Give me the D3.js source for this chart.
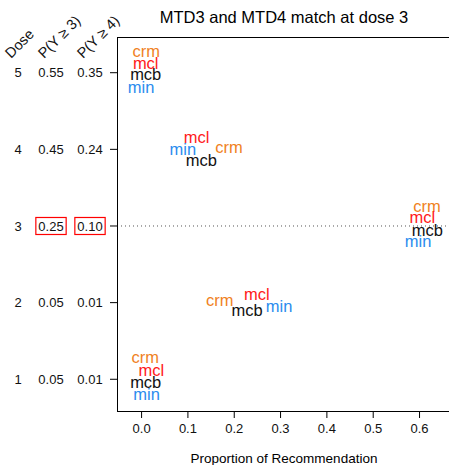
<!DOCTYPE html>
<html>
<head>
<meta charset="utf-8">
<script src="https://cdn.jsdelivr.net/npm/d3@7"></script>
<style>
  body { margin: 0; background: #fff; }
  text { font-family: "Liberation Sans", Arial, sans-serif; }
</style>
</head>
<body>
<svg id="chart" width="449" height="465"></svg>
<script>
// dose levels and the true tail probabilities
const doses = [1, 2, 3, 4, 5];
const pYge3 = ["0.05", "0.05", "0.25", "0.45", "0.55"];
const pYge4 = ["0.01", "0.01", "0.10", "0.24", "0.35"];
const targetDose = 3;

// proportion of recommendation per design, by dose
const methods = ["crm", "mcl", "mcb", "min"];
const crm = [0.009, 0.170, 0.617, 0.190, 0.011];
const mcl = [0.022, 0.250, 0.607, 0.120, 0.010];
const mcb = [0.010, 0.229, 0.618, 0.130, 0.010];
const minD = [0.012, 0.298, 0.598, 0.090, 0.000];

// vertical jitter of each label (dose units)
const crmOff = [0.284, 0.027, 0.262, 0.023, 0.277];
const mclOff = [0.119, 0.115, 0.111, 0.154, 0.120];
const mcbOff = [-0.042, -0.099, -0.055, -0.137, -0.020];
const minOff = [-0.194, -0.047, -0.198, 0.003, -0.185];

const xTicks = [0, 0.1, 0.2, 0.3, 0.4, 0.5, 0.6];

const colors = {crm: "#F0821E", mcl: "#FF1A1A", mcb: "#111111", min: "#2B8CEE"};
const series = {crm: crm, mcl: mcl, mcb: mcb, min: minD};
const offsets = {crm: crmOff, mcl: mclOff, mcb: mcbOff, min: minOff};

const svg = d3.select("#chart");
const plot = {left: 117, top: 37, right: 451, bottom: 411};

const x = d3.scaleLinear().domain([-0.052, 0.669]).range([plot.left, plot.right]);
const y = d3.scaleLinear().domain([0.586, 5.466]).range([plot.bottom, plot.top]);

// title
svg.append("text")
    .attr("x", 284).attr("y", 22.5)
    .attr("text-anchor", "middle")
    .style("font-size", "16.5px")
    .text("MTD3 and MTD4 match at dose 3");

// reference line at the target dose
svg.append("line")
    .attr("x1", plot.left).attr("x2", plot.right)
    .attr("y1", y(targetDose)).attr("y2", y(targetDose))
    .attr("stroke", "#555").attr("stroke-dasharray", "1,3");

// x axis
const xAxis = d3.axisBottom(x).tickValues(xTicks).tickFormat(d3.format(".1f"))
    .tickSize(7).tickSizeOuter(0).tickPadding(6);
const gx = svg.append("g")
    .attr("transform", `translate(0,${plot.bottom})`)
    .call(xAxis);
gx.select(".domain").remove();
gx.selectAll("text").style("font-size", "13px").style("font-family", "Liberation Sans, Arial, sans-serif").attr("fill", "#111");

svg.append("text")
    .attr("x", 284).attr("y", 463)
    .attr("text-anchor", "middle")
    .style("font-size", "13.5px")
    .text("Proportion of Recommendation");

// y ticks
svg.selectAll(".ytick").data(doses).enter().append("line")
    .attr("x1", plot.left - 7).attr("x2", plot.left)
    .attr("y1", d => y(d)).attr("y2", d => y(d))
    .attr("stroke", "#000");

// left table: dose, P(Y>=3), P(Y>=4)
const cols = [
    {x: 18, vals: doses.map(String), head: "Dose"},
    {x: 51, vals: pYge3, head: "P(Y \u2265 3)"},
    {x: 90, vals: pYge4, head: "P(Y \u2265 4)"}
];

cols.forEach(c => {
    const t = svg.selectAll(null).data(doses).enter().append("text")
        .attr("x", c.x).attr("y", d => y(d))
        .attr("dy", "0.35em")
        .attr("text-anchor", "middle")
        .style("font-size", "13px")
        .attr("fill", "#111")
        .text((d, i) => c.vals[i]);

    // boxes around the target row
    t.filter(d => d === targetDose && c.head !== "Dose").each(function() {
        const bb = this.getBBox();
        svg.append("rect")
            .attr("x", bb.x - 2.5).attr("y", y(targetDose) - 8.5)
            .attr("width", bb.width + 5).attr("height", 17)
            .attr("fill", "none").attr("stroke", "#FF0000").attr("stroke-width", 1.2);
    });

    svg.append("text")
        .attr("transform", `translate(${c.x - 7},${59}) rotate(-45)`)
        .style("font-size", "14.5px")
        .attr("fill", "#111")
        .text(c.head);
});

// recommendation labels
methods.forEach(m => {
    svg.selectAll(null).data(doses).enter().append("text")
        .attr("x", (d, i) => x(series[m][i]))
        .attr("y", (d, i) => y(d + offsets[m][i]))
        .attr("dy", "0.35em")
        .attr("text-anchor", "middle")
        .style("font-size", "16.5px")
        .attr("fill", colors[m])
        .text(m);
});

// plot frame
svg.append("rect")
    .attr("x", plot.left).attr("y", plot.top)
    .attr("width", plot.right - plot.left).attr("height", plot.bottom - plot.top)
    .attr("fill", "none").attr("stroke", "#000")
    .attr("shape-rendering", "crispEdges");
</script>
</body>
</html>
